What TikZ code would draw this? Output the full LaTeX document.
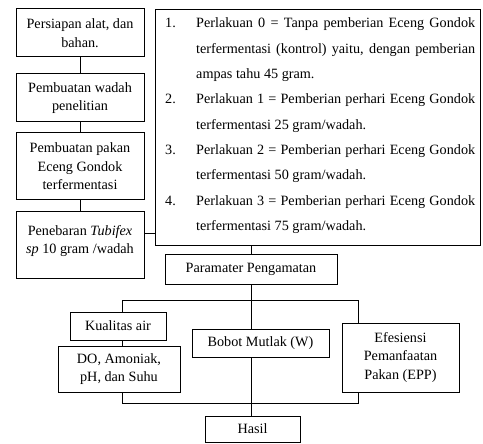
\documentclass[tikz,border=0pt]{standalone}
\usepackage{fontspec}
\setmainfont{Liberation Serif}
\newcommand{\fs}{\fontsize{14.2pt}{18.5pt}\selectfont}
\begin{document}
\begin{tikzpicture}[x=1pt,y=-1pt,
  box/.style={draw=black, line width=1pt, inner sep=0pt, align=center, font=\fs},
  ln/.style={anchor=base west, inner sep=0pt, font=\fs},
  txt/.style={inner sep=0pt, align=center, font=\fs},
  conn/.style={draw=black, line width=1pt}]
\useasboundingbox[fill=white] (0,0) rectangle (483,444);
% left column
\node[box, minimum width=128pt, minimum height=48pt] (b1) at (80,33) {Persiapan alat, dan\\bahan.};
\node[box, minimum width=128pt, minimum height=48pt] (b2) at (80,98) {Pembuatan wadah\\penelitian};
\node[box, minimum width=128pt, minimum height=67pt] (b3) at (80,166.5) {Pembuatan pakan\\Eceng Gondok\\terfermentasi};
\node[box, minimum width=128pt, minimum height=67pt] (b4) at (80,245.5) {};
\node[txt] (b4t) at (80,241) {Penebaran \textit{Tubifex}\\\textit{sp} 10 gram /wadah};
% list box
\node[box, minimum width=325pt, minimum height=236pt, anchor=north west] (list) at (155,9) {};
\node[ln] (n1) at (165,28) {1.};
\node[ln] (l1) at (196,28) {\makebox[279pt][s]{Perlakuan 0 = Tanpa pemberian Eceng Gondok}};
\node[ln] (l2) at (196,53.3) {\makebox[279pt][s]{terfermentasi (kontrol) yaitu, dengan pemberian}};
\node[ln] (l3) at (196,78.6) {ampas tahu 45 gram.};
\node[ln] (n2) at (165,103.9) {2.};
\node[ln] (l4) at (196,103.9) {\makebox[279pt][s]{Perlakuan 1 = Pemberian perhari Eceng Gondok}};
\node[ln] (l5) at (196,129.2) {terfermentasi 25 gram/wadah.};
\node[ln] (n3) at (165,154.5) {3.};
\node[ln] (l6) at (196,154.5) {\makebox[279pt][s]{Perlakuan 2 = Pemberian perhari Eceng Gondok}};
\node[ln] (l7) at (196,179.8) {terfermentasi 50 gram/wadah.};
\node[ln] (n4) at (165,205.1) {4.};
\node[ln] (l8) at (196,205.1) {\makebox[279pt][s]{Perlakuan 3 = Pemberian perhari Eceng Gondok}};
\node[ln] (l9) at (196,230.4) {terfermentasi 75 gram/wadah.};
% lower part
\node[box, minimum width=172pt, minimum height=29pt] (P) at (251,269.5) {Paramater Pengamatan};
\node[box, minimum width=96pt, minimum height=28pt] (K) at (118,326) {Kualitas air};
\node[box, minimum width=122pt, minimum height=46pt] (D) at (119,369) {DO, Amoniak,\\pH, dan Suhu};
\node[box, minimum width=137pt, minimum height=28pt] (B) at (260.5,343) {Bobot Mutlak (W)};
\node[box, minimum width=117pt, minimum height=69pt] (E) at (400.5,357.5) {Efesiensi\\Pemanfaatan\\Pakan (EPP)};
\node[box, minimum width=95pt, minimum height=26pt] (H) at (252.5,429) {Hasil};
% junction coordinates
\coordinate (cy) at (150,234);
\coordinate (bl) at (122,300);
\coordinate (br) at (358,300);
\coordinate (ll) at (122,403);
\coordinate (lr) at (358,403);
% connectors
\draw[conn] (b1) -- (b2);
\draw[conn] (b2) -- (b3);
\draw[conn] (b3) -- (b4);
\draw[conn] (b4.east |- cy) -- (list.west |- cy);
\draw[conn] (list.south -| P) -- (P.north);
\draw[conn] (P.south) -- (P.south |- B.north);
\draw[conn] (K.north -| bl) -- (bl) -- (br) -- (br |- E.north);
\draw[conn] (K.south -| bl) -- (D.north -| bl);
\draw[conn] (D.south -| ll) -- (ll) -- (lr) -- (E.south -| lr);
\draw[conn] (B.south -| P) -- (H.north -| P);
\end{tikzpicture}
\end{document}
